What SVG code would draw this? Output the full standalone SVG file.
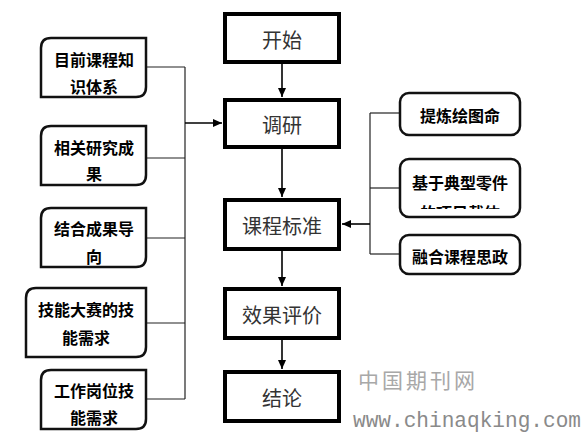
<svg xmlns="http://www.w3.org/2000/svg" width="585" height="440" viewBox="0 0 585 440">
<style>
.main{fill:#fff;stroke:#000;stroke-width:4}
.mt{font-family:"Noto Sans CJK SC","Noto Sans",sans-serif;font-size:20px;fill:#333;text-anchor:middle;dominant-baseline:central}
.side{fill:#fff;stroke:#111;stroke-width:2.5}
.st{font-family:"Noto Sans CJK SC",sans-serif;font-size:16px;font-weight:bold;fill:#000;text-anchor:middle;dominant-baseline:central}
.con{fill:none;stroke:#222;stroke-width:1.2}
.arr{fill:none;stroke:#000;stroke-width:1.6}
.wm{font-family:"Noto Sans CJK SC",sans-serif;font-size:21px;fill:#a8a8a8;letter-spacing:3px}
.url{font-family:"Liberation Mono",monospace;font-size:22px;fill:#8a8a8a}
</style>
<defs>
<marker id="ah" markerWidth="10" markerHeight="10" refX="9" refY="5" orient="auto" markerUnits="userSpaceOnUse">
<path d="M0,1 L9,5 L0,9 Z" fill="#000"/>
</marker>
<clipPath id="clipB"><rect x="400" y="159" width="120" height="50"/></clipPath>
</defs>
<rect width="585" height="440" fill="#fff"/>

<g id="connectors">
<line class="con" x1="147" y1="67" x2="185" y2="67"/>
<line class="con" x1="147" y1="158" x2="185" y2="158"/>
<line class="con" x1="147" y1="238" x2="185" y2="238"/>
<line class="con" x1="147" y1="323" x2="185" y2="323"/>
<line class="con" x1="147" y1="399" x2="185" y2="399"/>
<line class="con" x1="185" y1="67" x2="185" y2="399"/>
<line class="arr" x1="185" y1="123" x2="222" y2="123" marker-end="url(#ah)"/>
<line class="con" x1="370" y1="113" x2="400" y2="113"/>
<line class="con" x1="370" y1="188" x2="400" y2="188"/>
<line class="con" x1="370" y1="254" x2="400" y2="254"/>
<line class="con" x1="370" y1="113" x2="370" y2="254"/>
<line class="arr" x1="370" y1="224" x2="342" y2="224" marker-end="url(#ah)"/>
<line class="arr" x1="282" y1="64" x2="282" y2="97" marker-end="url(#ah)"/>
<line class="arr" x1="282" y1="149" x2="282" y2="197" marker-end="url(#ah)"/>
<line class="arr" x1="282" y1="251" x2="282" y2="286" marker-end="url(#ah)"/>
<line class="arr" x1="282" y1="340" x2="282" y2="369" marker-end="url(#ah)"/>
</g>

<g id="start"><rect class="main" x="225" y="14" width="114" height="48"/><text class="mt" x="282" y="39">开始</text></g>
<g id="research"><rect class="main" x="225" y="100" width="114" height="47"/><text class="mt" x="282" y="124">调研</text></g>
<g id="standard"><rect class="main" x="225" y="200" width="114" height="49"/><text class="mt" x="282" y="225">课程标准</text></g>
<g id="evaluation"><rect class="main" x="225" y="289" width="114" height="49"/><text class="mt" x="282" y="314">效果评价</text></g>
<g id="conclusion"><rect class="main" x="225" y="372" width="114" height="49"/><text class="mt" x="282" y="397">结论</text></g>

<g id="l1"><path class="side" d="M51,38 H146 V87 Q146,97 136,97 H41 V48 Q41,38 51,38 Z"/><text class="st" x="94" y="59">目前课程知</text><text class="st" x="94" y="86">识体系</text></g>
<g id="l2"><path class="side" d="M51,126 H146 V175 Q146,185 136,185 H41 V136 Q41,126 51,126 Z"/><text class="st" x="94" y="147">相关研究成</text><text class="st" x="94" y="173">果</text></g>
<g id="l3"><path class="side" d="M51,208 H146 V257 Q146,267 136,267 H41 V218 Q41,208 51,208 Z"/><text class="st" x="94" y="228">结合成果导</text><text class="st" x="94" y="256">向</text></g>
<g id="l4"><path class="side" d="M36,288 H146 V347 Q146,357 136,357 H26 V298 Q26,288 36,288 Z"/><text class="st" x="86" y="309">技能大赛的技</text><text class="st" x="86" y="337">能需求</text></g>
<g id="l5"><path class="side" d="M51,370 H146 V419 Q146,429 136,429 H41 V380 Q41,370 51,370 Z"/><text class="st" x="94" y="390">工作岗位技</text><text class="st" x="94" y="417">能需求</text></g>

<g id="r1"><rect class="side" x="400" y="93" width="120" height="42" rx="9"/><text class="st" x="460" y="115">提炼绘图命</text></g>
<g id="r2"><rect class="side" x="400" y="159" width="120" height="58" rx="9"/><text class="st" x="460" y="182">基于典型零件</text><g clip-path="url(#clipB)"><text class="st" x="460" y="212">的项目载体</text></g></g>
<g id="r3"><rect class="side" x="400" y="235" width="120" height="39" rx="9"/><text class="st" x="460" y="256">融合课程思政</text></g>

<g id="watermark">
<text class="wm" x="358" y="388">中国期刊网</text>
<text class="url" x="353" y="427" textLength="228" lengthAdjust="spacingAndGlyphs">www.chinaqking.com</text>
</g>
</svg>
